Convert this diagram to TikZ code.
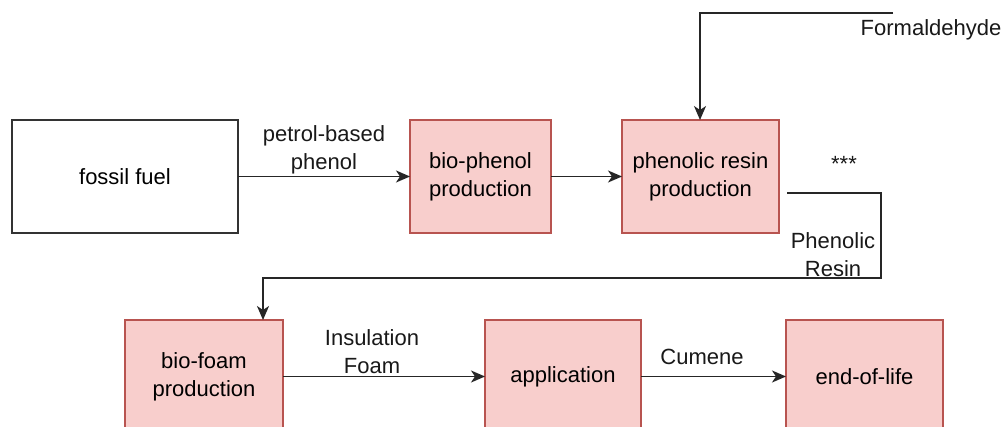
\documentclass[tikz,border=0pt]{standalone}
\usepackage{fontspec}
\setmainfont{Liberation Sans}
\usetikzlibrary{arrows.meta,calc}
\begin{document}
\begin{tikzpicture}[x=1pt,y=-1pt,
  font=\fontsize{22}{28}\selectfont,
  every node/.style={inner sep=0pt, outer sep=0pt},
  whitebox/.style={draw=black!80, line width=1.8pt, fill=white, align=center},
  pinkbox/.style={draw=pinkedge, line width=1.8pt, fill=pinkfill, align=center},
  conn/.style={draw=black!85, line width=1.8pt, -{Stealth[length=14pt,width=12pt,inset=4pt]}},
  lbl/.style={align=center, text=black!90}
]
\definecolor{pinkfill}{HTML}{F8CECC}
\definecolor{pinkedge}{HTML}{B85450}
\useasboundingbox (0,0) rectangle (1008,427);
\fill[white] (0,0) rectangle (1008,427);
\begin{scope}
\clip (0,0) rectangle (1008,427);
% top row
\node[whitebox, minimum width=226pt, minimum height=113pt] (ff) at (125,176.5) {\raisebox{-2pt}{fossil fuel}};
\node[pinkbox, minimum width=141pt, minimum height=113pt] (bp) at (480.5,176.5) {\raisebox{-2pt}{\begin{tabular}{@{}c@{}}bio-phenol\\production\end{tabular}}};
\node[pinkbox, minimum width=157pt, minimum height=113pt] (pr) at (700.5,176.5) {\raisebox{-2pt}{\begin{tabular}{@{}c@{}}phenolic resin\\production\end{tabular}}};
% bottom row
\node[pinkbox, minimum width=158pt, minimum height=113pt] (bf) at (204,376.5) {\raisebox{-2pt}{\begin{tabular}{@{}c@{}}bio-foam\\production\end{tabular}}};
\node[pinkbox, minimum width=156pt, minimum height=113pt] (ap) at (563,376.5) {\raisebox{-2pt}{application}};
\node[pinkbox, minimum width=157pt, minimum height=113pt] (eol) at (864.5,376.5) {\raisebox{-2pt}{end-of-life}};
\end{scope}
% coordinates
\coordinate (fstart) at (893,13);
\coordinate (fcorner) at (700,13);
\coordinate (rstart) at (787,193);
\coordinate (rc1) at (881,193);
\coordinate (rc2) at (881,278);
\coordinate (rc3) at (263,278);
% connectors
\draw[conn] (ff.east) -- (bp.west);
\draw[conn] (bp.east) -- (pr.west);
\draw[conn] (fstart) -- (fcorner) -- (fcorner |- pr.north);
\draw[conn] (rstart) -- (rc1) -- (rc2) -- (rc3) -- (rc3 |- bf.north);
\draw[conn] (bf.east |- ap.west) -- (ap.west);
\draw[conn] (ap.east) -- (eol.west);
% labels
\node[lbl] (l1) at (324,150) {petrol-based\\phenol};
\node[lbl] (l2) at (931,30) {Formaldehyde};
\node[lbl] (l3) at (844,164) {***};
\node[lbl] (l4) at (833,255) {Phenolic\\Resin};
\node[lbl] (l5) at (372,352) {Insulation\\Foam};
\node[lbl] (l6) at (702,357) {Cumene};
\end{tikzpicture}
\end{document}
